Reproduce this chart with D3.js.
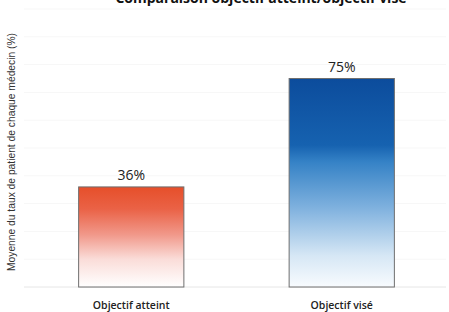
<!DOCTYPE html>
<html>
<head>
<meta charset="utf-8">
<script src="https://cdn.jsdelivr.net/npm/d3@7"></script>
<style>
  body { margin: 0; background: #fff; }
  svg { display: block; font-family: 'Open Sans', 'Noto Sans', sans-serif; }
</style>
</head>
<body>
<div id="chart"></div>
<script>
const categories = ['Objectif atteint', 'Objectif visé']
const values = [36, 75]
const gridTicks = [10, 20, 30, 40, 50, 60, 70, 80, 90, 100]

const width = 449
const height = 312

const svg = d3
  .select('#chart')
  .append('svg')
  .attr('width', width)
  .attr('height', height)

const defs = svg.append('defs')

const orange = defs
  .append('linearGradient')
  .attr('id', 'grad-0')
  .attr('x1', 0).attr('y1', 0).attr('x2', 0).attr('y2', 1)
orange.append('stop').attr('offset', '0%').attr('stop-color', '#e64f2a')
orange.append('stop').attr('offset', '22%').attr('stop-color', '#ea6246')
orange.append('stop').attr('offset', '48%').attr('stop-color', '#f1998b')
orange.append('stop').attr('offset', '72%').attr('stop-color', '#fadcd8')
orange.append('stop').attr('offset', '100%').attr('stop-color', '#ffffff')

const blue = defs
  .append('linearGradient')
  .attr('id', 'grad-1')
  .attr('x1', 0).attr('y1', 0).attr('x2', 0).attr('y2', 1)
blue.append('stop').attr('offset', '0%').attr('stop-color', '#0c4c9c')
blue.append('stop').attr('offset', '32%').attr('stop-color', '#1662b0')
blue.append('stop').attr('offset', '40%').attr('stop-color', '#3582c6')
blue.append('stop').attr('offset', '62%').attr('stop-color', '#7fb1de')
blue.append('stop').attr('offset', '85%').attr('stop-color', '#d6e7f5')
blue.append('stop').attr('offset', '100%').attr('stop-color', '#f8fbfe')

// scales
const xScale = d3
  .scaleBand()
  .domain(categories)
  .range([26, 447])
  .paddingInner(0.5)
  .paddingOuter(0.25)

const yScale = d3.scaleLinear().domain([0, 100]).range([287, 9])

// faint grid
svg
  .selectAll('.grid')
  .data(gridTicks)
  .enter()
  .append('line')
  .attr('class', 'grid')
  .attr('x1', 24)
  .attr('x2', 446)
  .attr('y1', d => yScale(d))
  .attr('y2', d => yScale(d))
  .attr('stroke', '#f7f7f7')
  .attr('stroke-width', 1)

// baseline
svg
  .append('line')
  .attr('x1', 24)
  .attr('x2', 446)
  .attr('y1', yScale(0))
  .attr('y2', yScale(0))
  .attr('stroke', '#e6e6e6')

// bars
svg
  .selectAll('.bar')
  .data(values)
  .enter()
  .append('rect')
  .attr('class', 'bar')
  .attr('x', (d, i) => xScale(categories[i]))
  .attr('y', d => yScale(d))
  .attr('width', xScale.bandwidth())
  .attr('height', d => yScale(0) - yScale(d))
  .attr('fill', (d, i) => `url(#grad-${i})`)
  .attr('stroke', '#6f6f6f')
  .attr('stroke-width', 1)

// value labels
svg
  .selectAll('.value-label')
  .data(values)
  .enter()
  .append('text')
  .attr('class', 'value-label')
  .text(d => d + '%')
  .attr('x', (d, i) => xScale(categories[i]) + xScale.bandwidth() / 2)
  .attr('y', d => yScale(d) - 7)
  .attr('text-anchor', 'middle')
  .attr('font-size', 14)
  .attr('fill', '#222')

// category labels
svg
  .selectAll('.cat-label')
  .data(categories)
  .enter()
  .append('text')
  .attr('class', 'cat-label')
  .text(d => d)
  .attr('x', d => xScale(d) + xScale.bandwidth() / 2)
  .attr('y', 309)
  .attr('text-anchor', 'middle')
  .attr('font-size', 10.5)
  .attr('font-weight', 600)
  .attr('fill', '#222')

// title (cut at the top edge, as in the source)
svg
  .append('text')
  .text('Comparaison objectif atteint/objectif visé')
  .attr('x', 261)
  .attr('y', 3)
  .attr('text-anchor', 'middle')
  .attr('font-size', 14)
  .attr('font-weight', 'bold')
  .attr('fill', '#111')

// y axis title
svg
  .append('text')
  .text('Moyenne du taux de patient de chaque médecin (%)')
  .attr('transform', 'translate(15,152) rotate(-90)')
  .attr('text-anchor', 'middle')
  .attr('font-family', "'Liberation Sans Narrow', 'Liberation Sans', sans-serif")
  .attr('font-size', 11)
  .attr('textLength', 238)
  .attr('lengthAdjust', 'spacingAndGlyphs')
  .attr('fill', '#333')
</script>
</body>
</html>
